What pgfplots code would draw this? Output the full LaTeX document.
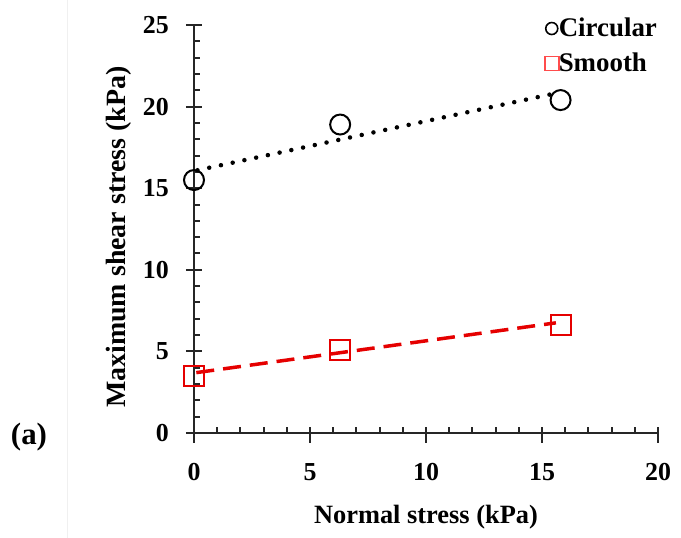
\documentclass[border=0pt]{standalone}
\usepackage{fontspec}
\setmainfont{Liberation Serif}
\usepackage{pgfplots}
\pgfplotsset{compat=1.18}
\pgfplotsset{
  legmark/.style 2 args={legend image code/.code={%
    \draw[##1, mark size=#1, line width=1.6bp, #2] plot coordinates {(6bp,1bp)};
    \path[draw=none, fill=none] (0,-6bp) rectangle (13bp,-5bp);}},
}

\begin{document}
\begin{tikzpicture}[x=1bp,y=1bp]
\path[use as bounding box] (-194,-105) rectangle (487,433);
\draw[gray!12, line width=1bp] (-126,-105) -- (-126,433);
\begin{axis}[
  at={(0,0)}, anchor=origin,
  scale only axis,
  width=464bp, height=408bp,
  xmin=0, xmax=20, ymin=0, ymax=25,
  axis lines=left,
  axis line style={line width=2.4bp, -, black!85},
  clip=false,
  xtick={0,5,...,20}, ytick={0,5,...,25},
  minor x tick num=4, minor y tick num=4,
  tick align=inside,
  major tick length=16bp, minor tick length=6bp,
  major x tick style={yshift=-10bp},
  major y tick style={xshift=-8bp},
  tick style={line width=2bp, black!85},
  /pgf/number format/assume math mode=true,
  ticklabel style={font=\fontsize{26}{26}\selectfont\bfseries, inner sep=0pt},
  xticklabel style={anchor=north, yshift=-30bp},
  yticklabel style={anchor=east, xshift=-25bp},
  xlabel={\textbf{Normal stress (kPa)}},
  ylabel={\textbf{Maximum shear stress (kPa)}},
  xlabel style={font=\fontsize{26.5}{26.5}\selectfont, at={(axis description cs:0.5,-0.223)}, anchor=base, inner sep=0pt},
  ylabel style={font=\fontsize{28}{28}\selectfont, at={(axis description cs:-0.147,0.48)}, anchor=base, inner sep=0pt},
  legend style={draw=none, fill=none, at={(rel axis cs:0.998,1.02)}, anchor=north east,
    font=\fontsize{27}{27}\selectfont\bfseries, row sep=10bp, inner sep=0pt,
    nodes={inner sep=0pt, text height=19bp, text depth=6bp}},
  legend cell align=left,
]
\addplot[only marks, mark=o, mark size=10bp, line width=2bp, black, legmark={6bp}{black}]
  coordinates {(0,15.5) (6.3,18.9) (15.8,20.4)};
\addlegendentry{Circular}
\addplot[only marks, mark=square, mark size=10bp, line width=2bp, red!90!black, legmark={7bp}{red!70}]
  coordinates {(0,3.5) (6.3,5.1) (15.8,6.6)};
\addlegendentry{Smooth}
\addplot[forget plot, black, line width=4.5bp, line cap=round, dash pattern=on 0bp off 12bp]
  coordinates {(0.15,16.1) (15.7,20.85)};
\addplot[forget plot, red!90!black, line width=3.5bp, dash pattern=on 18bp off 9bp]
  coordinates {(0.1,3.7) (15.6,6.75)};
\end{axis}
\node[font=\fontsize{31}{31}\selectfont\bfseries] at (-165,-4) {(a)};
\end{tikzpicture}
\end{document}
